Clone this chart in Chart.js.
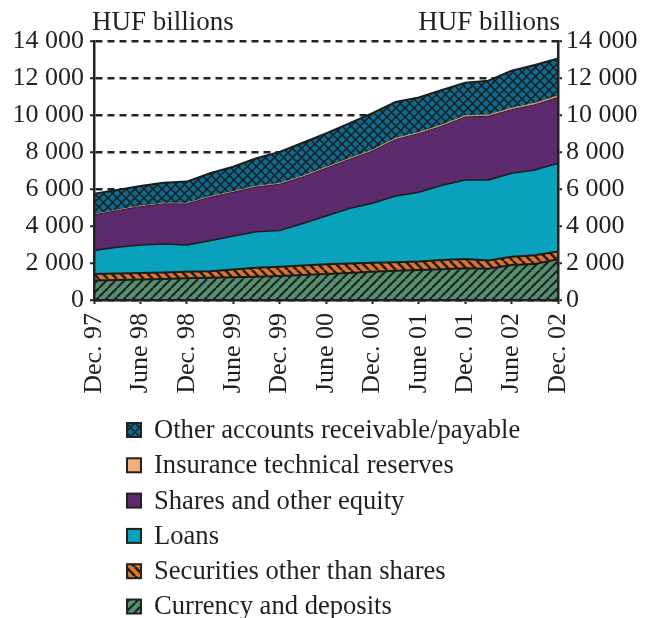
<!DOCTYPE html>
<html>
<head>
<meta charset="utf-8">
<script src="https://cdn.jsdelivr.net/npm/chart.js@4.4.1/dist/chart.umd.min.js"></script>
<style>
    body { margin: 0; background: #fff; }
    canvas { display: block; }
</style>
</head>
<body>
<canvas id="stockChart" width="650" height="618"></canvas>
<script>
// quarterly stock of liabilities, HUF billions
const quarters = ['Dec. 97', 'Mar. 98', 'June 98', 'Sep. 98', 'Dec. 98', 'Mar. 99', 'June 99', 'Sep. 99',
    'Dec. 99', 'Mar. 00', 'June 00', 'Sep. 00', 'Dec. 00', 'Mar. 01', 'June 01', 'Sep. 01',
    'Dec. 01', 'Mar. 02', 'June 02', 'Sep. 02', 'Dec. 02'];

const currency = [1050, 1080, 1110, 1140, 1170, 1200, 1230, 1260, 1300, 1350, 1400, 1460, 1530, 1580, 1620, 1660, 1710, 1690, 1890, 1950, 2200];
const securities = [350, 350, 350, 350, 360, 360, 420, 480, 500, 510, 530, 510, 490, 460, 460, 500, 510, 450, 450, 470, 420];
const loans = [1270, 1420, 1510, 1540, 1440, 1640, 1810, 1950, 1950, 2280, 2610, 2980, 3210, 3580, 3740, 4040, 4270, 4350, 4510, 4610, 4770];
const shares = [1930, 1980, 2075, 2165, 2225, 2350, 2360, 2415, 2505, 2510, 2580, 2645, 2815, 3060, 3170, 3195, 3405, 3440, 3440, 3525, 3560];
const insurance = [30, 30, 35, 35, 35, 40, 40, 45, 45, 50, 50, 55, 55, 60, 60, 65, 65, 70, 70, 75, 80];
const otherAccounts = [1120, 1090, 1080, 1110, 1170, 1260, 1340, 1510, 1700, 1800, 1830, 1900, 2000, 1960, 1900, 1890, 1790, 1850, 2040, 2070, 2030];

const yMin = 0;
const yMax = 14000;
const yStep = 2000;

const FONT = '"Liberation Serif", "Times New Roman", serif';
const INK = '#231f20';

// small tiled canvases used as fill patterns
function hatch(bg, size, width, dirs) {
    const c = document.createElement('canvas');
    c.width = size;
    c.height = size;
    const g = c.getContext('2d');
    g.fillStyle = bg;
    g.fillRect(0, 0, size, size);
    g.strokeStyle = '#1c1c1c';
    g.lineWidth = width;
    dirs.forEach(d => {
        for (let x0 = -size; x0 <= size; x0 += size) {
            g.beginPath();
            if (d === '/') {
                g.moveTo(x0, size);
                g.lineTo(x0 + size, 0);
            } else {
                g.moveTo(x0, 0);
                g.lineTo(x0 + size, size);
            }
            g.stroke();
        }
    });
    return g.createPattern(c, 'repeat');
}

const fmt = v => String(v).replace(/\B(?=(\d{3})+(?!\d))/g, ' ');

const ctx = document.getElementById('stockChart').getContext('2d');

const currencyFill = hatch('#54906f', 9, 2, ['/']);
const securitiesFill = hatch('#e0742a', 9, 2.5, ['\\']);
const otherFill = hatch('#0c6b8e', 9, 1.5, ['/', '\\']);

const titles = {
    id: 'unitTitles',
    afterDraw(chart) {
        const c = chart.ctx;
        const area = chart.chartArea;
        c.save();
        c.font = '27px ' + FONT;
        c.fillStyle = INK;
        c.textBaseline = 'alphabetic';
        c.textAlign = 'left';
        c.fillText('HUF billions', area.left - 2, 30);
        c.textAlign = 'right';
        c.fillText('HUF billions', area.right + 2, 30);
        c.restore();
    }
};

// one-column legend under the axis, top series first
const columnLegend = {
    id: 'columnLegend',
    afterDraw(chart) {
        const c = chart.ctx;
        const items = chart.data.datasets.slice().reverse();
        c.save();
        c.font = '26.6px ' + FONT;
        c.textBaseline = 'middle';
        c.textAlign = 'left';
        items.forEach((ds, i) => {
            const y = 430 + i * 35.3;
            c.fillStyle = ds.backgroundColor;
            c.fillRect(127, y - 7, 14, 14);
            c.strokeStyle = '#222';
            c.lineWidth = 2;
            c.strokeRect(127, y - 7, 14, 14);
            c.fillStyle = INK;
            c.fillText(ds.label, 154, y + 1);
        });
        c.restore();
    }
};

const yAxis = (position) => ({
    type: 'linear',
    position: position,
    stacked: true,
    min: yMin,
    max: yMax,
    afterFit(scale) {
        scale.width = position === 'left' ? 94 : 92;
    },
    ticks: {
        stepSize: yStep,
        padding: position === 'left' ? 6 : 4,
        color: INK,
        font: { family: FONT, size: 26 },
        callback: v => fmt(v)
    },
    grid: {
        display: true,
        drawOnChartArea: position === 'left',
        color: '#222',
        lineWidth: 2.5,
        tickLength: 4,
        tickWidth: 2,
        tickColor: '#222'
    },
    border: { display: true, color: '#222', width: 2.5, dash: [7, 5], z: 1 }
});

new Chart(ctx, {
    type: 'line',
    data: {
        labels: quarters,
        datasets: [
            { label: 'Currency and deposits', data: currency, backgroundColor: currencyFill, borderColor: '#1c1c1c', borderWidth: 2, fill: 'origin' },
            { label: 'Securities other than shares', data: securities, backgroundColor: securitiesFill, borderColor: '#1c1c1c', borderWidth: 2, fill: '-1' },
            { label: 'Loans', data: loans, backgroundColor: '#0aa1bc', borderColor: '#1c1c1c', borderWidth: 1.5, fill: '-1' },
            { label: 'Shares and other equity', data: shares, backgroundColor: '#5e2a6e', borderColor: '#2a1a2e', borderWidth: 1, fill: '-1' },
            { label: 'Insurance technical reserves', data: insurance, backgroundColor: '#f3ae7a', borderColor: '#c99262', borderWidth: 1, fill: '-1' },
            { label: 'Other accounts receivable/payable', data: otherAccounts, backgroundColor: otherFill, borderColor: '#1c1c1c', borderWidth: 2, fill: '-1' }
        ]
    },
    options: {
        responsive: false,
        animation: false,
        layout: { padding: { top: 41, left: 0, right: 0, bottom: 218 } },
        elements: {
            point: { radius: 0 },
            line: { tension: 0 }
        },
        plugins: {
            legend: { display: false },
            tooltip: { enabled: false }
        },
        scales: {
            x: {
                type: 'category',
                offset: false,
                afterFit(scale) {
                    scale.height = 100;
                },
                ticks: {
                    autoSkip: false,
                    minRotation: 90,
                    maxRotation: 90,
                    padding: 9,
                    color: INK,
                    font: { family: FONT, size: 26 },
                    callback: function (v, i) {
                        return i % 2 === 0 ? this.getLabelForValue(v) : null;
                    }
                },
                grid: {
                    drawOnChartArea: false,
                    drawTicks: true,
                    tickLength: 4,
                    tickWidth: 2,
                    tickColor: '#222'
                },
                border: { display: true, color: '#222', width: 2.5, z: 1 }
            },
            y: yAxis('left'),
            y2: yAxis('right')
        }
    },
    plugins: [titles, columnLegend]
});
</script>
</body>
</html>
